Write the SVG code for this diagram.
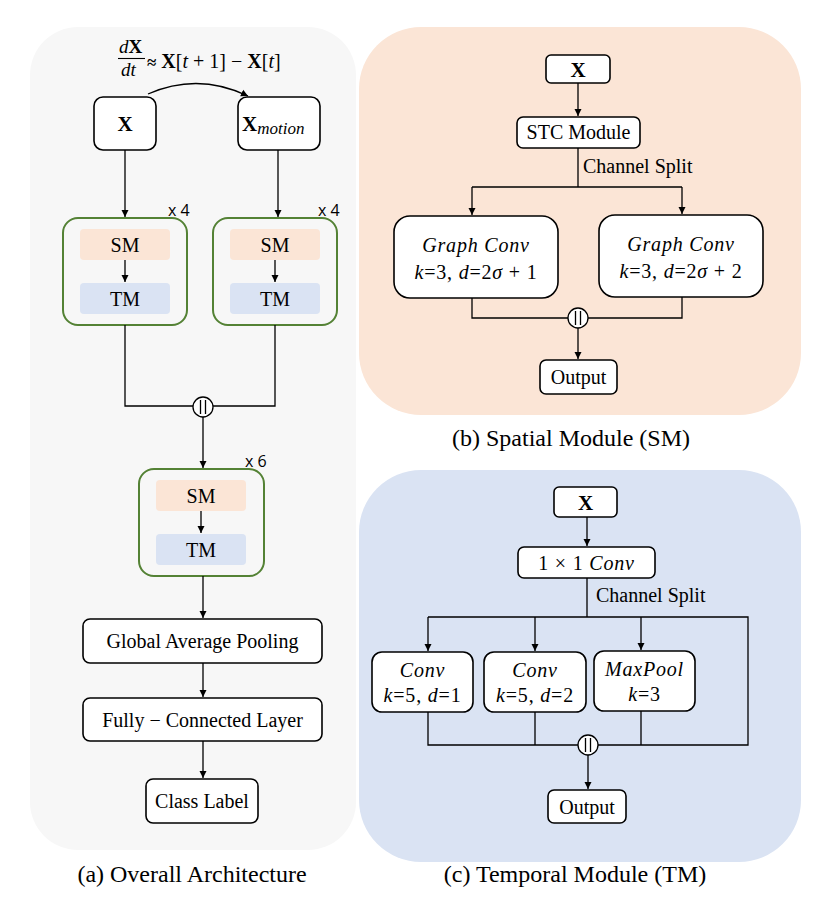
<svg xmlns="http://www.w3.org/2000/svg" width="830" height="919" viewBox="0 0 830 919">
<defs>
<marker id="arr" markerWidth="8" markerHeight="8" refX="7" refY="4" orient="auto" markerUnits="userSpaceOnUse">
<path d="M0,0.5 L7,4 L0,7.5 Z" fill="#000"/>
</marker>
<style>
.box{fill:#fff;stroke:#000;stroke-width:1.6}
.grp{fill:#f7f7f7;stroke:#548235;stroke-width:2}
.sm{fill:#fbe5d6}
.tm{fill:#dae3f3}
.ln{fill:none;stroke:#000;stroke-width:1.3}
.ar{fill:none;stroke:#000;stroke-width:1.3;marker-end:url(#arr)}
.t{font-family:"Liberation Serif",serif;font-size:20px;fill:#000;text-anchor:middle}
.cap{font-family:"Liberation Serif",serif;font-size:24px;fill:#000;text-anchor:middle}
.bx{font-family:"Liberation Serif",serif;font-size:21px;font-weight:bold;fill:#000;text-anchor:middle}
.mi{font-family:"Liberation Serif",serif;font-size:20px;fill:#000;text-anchor:middle;letter-spacing:0.8px}
.i{font-style:italic}
.rep{font-family:"Open Sans",sans-serif;font-size:16px;fill:#000}
.cc{fill:#fff;stroke:#000;stroke-width:1.3}
</style>
</defs>

<!-- panels -->
<rect x="30" y="27" width="326" height="823" rx="48" fill="#f7f7f7"/>
<rect x="359" y="27" width="442" height="388" rx="62" fill="#fbe5d6"/>
<rect x="359" y="470" width="442" height="392" rx="62" fill="#dae3f3"/>

<text class="cap" x="192" y="882">(a) Overall Architecture</text>
<text class="cap" x="571" y="446">(b) Spatial Module (SM)</text>
<text class="cap" x="575" y="882">(c) Temporal Module (TM)</text>

<!-- panel a -->
<g id="formula">
<text x="119" y="53" style="font-family:'Liberation Serif',serif;font-size:19px"><tspan font-style="italic">d</tspan><tspan font-weight="bold">X</tspan></text>
<path d="M118,58.5 H145" stroke="#000" stroke-width="1.1"/>
<text x="121" y="76" style="font-family:'Liberation Serif',serif;font-size:19px;font-style:italic">dt</text>
<text x="147" y="68" style="font-family:'Liberation Serif',serif;font-size:20px"><tspan font-weight="bold" font-size="17">≈</tspan> <tspan font-weight="bold">X</tspan>[<tspan font-style="italic">t</tspan> + 1] − <tspan font-weight="bold">X</tspan>[<tspan font-style="italic">t</tspan>]</text>
</g>

<g id="x-a"><rect class="box" x="94" y="97" width="62" height="53" rx="9"/><text class="bx" x="125" y="131">X</text></g>
<g id="xmotion"><rect class="box" x="238" y="97" width="82" height="53" rx="9"/>
<text x="242" y="131" style="font-family:'Liberation Serif',serif;font-size:21px"><tspan font-weight="bold">X</tspan><tspan font-style="italic" font-size="17" dy="3">motion</tspan></text></g>

<g id="block1">
<rect class="grp" x="63" y="218" width="124" height="107" rx="15"/>
<rect class="sm" x="80" y="229" width="90" height="31" rx="4"/><text class="t" x="125" y="252">SM</text>
<rect class="tm" x="80" y="283" width="90" height="31" rx="4"/><text class="t" x="125" y="306">TM</text>
<text class="rep" x="168" y="216">x 4</text>
</g>
<g id="block2">
<rect class="grp" x="213" y="218" width="124" height="107" rx="15"/>
<rect class="sm" x="230" y="229" width="90" height="31" rx="4"/><text class="t" x="275" y="252">SM</text>
<rect class="tm" x="230" y="283" width="90" height="31" rx="4"/><text class="t" x="275" y="306">TM</text>
<text class="rep" x="318" y="216">x 4</text>
</g>
<g id="block3">
<rect class="grp" x="139" y="469" width="125" height="107" rx="15"/>
<rect class="sm" x="156" y="480" width="90" height="31" rx="4"/><text class="t" x="201" y="503">SM</text>
<rect class="tm" x="156" y="534" width="90" height="31" rx="4"/><text class="t" x="201" y="557">TM</text>
<text class="rep" x="245" y="467">x 6</text>
</g>
<g id="gap"><rect class="box" x="83" y="619" width="239" height="44" rx="7"/><text class="t" x="202.5" y="648">Global Average Pooling</text></g>
<g id="fc"><rect class="box" x="83" y="698" width="239" height="43" rx="7"/><text class="t" x="202.5" y="727">Fully − Connected Layer</text></g>
<g id="cls"><rect class="box" x="146" y="779" width="112" height="44" rx="7"/><text class="t" x="202" y="808">Class Label</text></g>

<!-- panel b -->
<g id="x-b"><rect class="box" x="546" y="55" width="64" height="28" rx="5"/><text class="bx" x="578" y="77">X</text></g>
<g id="stc"><rect class="box" x="517" y="117" width="123" height="31" rx="6"/><text class="t" x="578.5" y="139">STC Module</text></g>
<text class="t" x="583" y="173" style="text-anchor:start">Channel Split</text>
<g id="gc1"><rect class="box" x="394" y="216" width="164" height="82" rx="16"/>
<text class="mi i" x="476" y="252">Graph Conv</text><text class="mi" x="476" y="279"><tspan class="i">k</tspan>=3, <tspan class="i">d</tspan>=2<tspan class="i">σ</tspan> + 1</text></g>
<g id="gc2"><rect class="box" x="599" y="215" width="164" height="82" rx="16"/>
<text class="mi i" x="681" y="251">Graph Conv</text><text class="mi" x="681" y="278"><tspan class="i">k</tspan>=3, <tspan class="i">d</tspan>=2<tspan class="i">σ</tspan> + 2</text></g>
<g id="out-b"><rect class="box" x="540" y="360" width="77" height="34" rx="6"/><text class="t" x="578.5" y="384">Output</text></g>

<!-- panel c -->
<g id="x-c"><rect class="box" x="554" y="487" width="63" height="30" rx="5"/><text class="bx" x="585.5" y="510">X</text></g>
<g id="conv11"><rect class="box" x="518" y="547" width="137" height="31" rx="6"/><text class="mi" x="586.5" y="570">1 × 1 <tspan class="i">Conv</tspan></text></g>
<text class="t" x="596" y="602" style="text-anchor:start">Channel Split</text>
<g id="conv1"><rect class="box" x="372" y="652" width="101" height="60" rx="10"/>
<text class="mi i" x="422.5" y="677">Conv</text><text class="mi" x="422.5" y="702"><tspan class="i">k</tspan>=5, <tspan class="i">d</tspan>=1</text></g>
<g id="conv2"><rect class="box" x="484" y="652" width="102" height="60" rx="10"/>
<text class="mi i" x="535" y="677">Conv</text><text class="mi" x="535" y="702"><tspan class="i">k</tspan>=5, <tspan class="i">d</tspan>=2</text></g>
<g id="maxpool"><rect class="box" x="594" y="651" width="101" height="60" rx="10"/>
<text class="mi i" x="644.5" y="676">MaxPool</text><text class="mi" x="644.5" y="701"><tspan class="i">k</tspan>=3</text></g>
<g id="out-c"><rect class="box" x="548" y="790" width="78" height="33" rx="6"/><text class="t" x="587" y="814">Output</text></g>

<!-- connectors -->
<g id="connectors">
<path class="ar" d="M148,94 Q198,72 248,96"/>
<path class="ar" d="M125,150 V217"/>
<path class="ar" d="M278,150 V217"/>
<path class="ar" d="M125,260 V282"/>
<path class="ar" d="M275,260 V282"/>
<path class="ln" d="M125,325 V406 H193 M275,325 V406 H213"/>
<path class="ar" d="M203,417 V468"/>
<path class="ar" d="M201,511 V533"/>
<path class="ar" d="M203,576 V618"/>
<path class="ar" d="M203,663 V697"/>
<path class="ar" d="M203,741 V778"/>
<path class="ar" d="M578,83 V116"/>
<path class="ln" d="M578,148 V187 M472,187 H682"/>
<path class="ar" d="M472,187 V215"/>
<path class="ar" d="M682,187 V214"/>
<path class="ln" d="M472,298 V318 H568 M682,297 V318 H588"/>
<path class="ar" d="M578,328 V359"/>
<path class="ar" d="M587,517 V546"/>
<path class="ln" d="M587,578 V617 M428,617 H748 V745 H598"/>
<path class="ar" d="M428,617 V651"/>
<path class="ar" d="M535,617 V651"/>
<path class="ar" d="M641,617 V650"/>
<path class="ln" d="M428,712 V745 H578 M535,712 V745 M641,711 V745"/>
<path class="ar" d="M588,755 V789"/>
</g>

<!-- concat symbols -->
<g id="concat-a"><circle class="cc" cx="203" cy="407" r="10"/><path class="ln" d="M200.5,400 V414 M205.5,400 V414"/></g>
<g id="concat-b"><circle class="cc" cx="578" cy="318" r="10"/><path class="ln" d="M575.5,311 V325 M580.5,311 V325"/></g>
<g id="concat-c"><circle class="cc" cx="588" cy="745" r="10"/><path class="ln" d="M585.5,738 V752 M590.5,738 V752"/></g>
</svg>
